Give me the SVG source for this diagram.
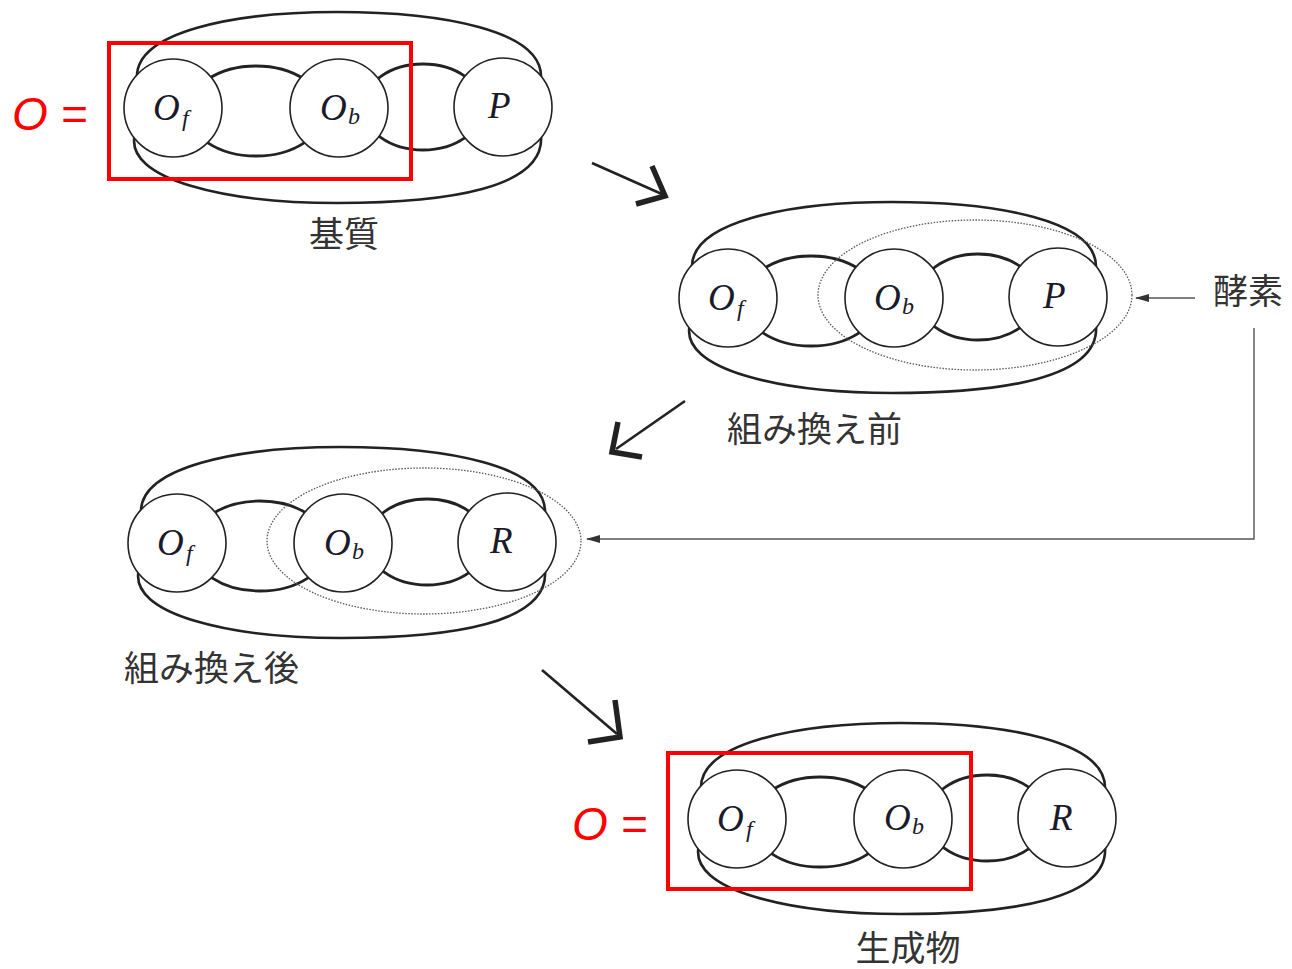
<svg xmlns="http://www.w3.org/2000/svg" xmlns:xlink="http://www.w3.org/1999/xlink" width="1292" height="969" viewBox="0 0 1292 969">
<style>
.outer{fill:none;stroke:#222;stroke-width:2.6}
.lens{fill:#fff;stroke:#222;stroke-width:2.8}
.circ{fill:#fff;stroke:#222;stroke-width:1.6}
.dot{fill:none;stroke:#555;stroke-width:1.3;stroke-dasharray:1.5 1.5}
.red{fill:none;stroke:#f00;stroke-width:4}
.m{font-family:"Liberation Serif",serif;font-style:italic;font-size:37px;fill:#1a1a2a}
.sub{font-family:"Liberation Serif",serif;font-style:italic;font-size:24px;fill:#1a1a2a}
.jp{font-family:"Noto Sans CJK JP","Noto Sans CJK SC",sans-serif;font-size:35px;fill:#333}
.eq{font-family:"Liberation Sans",sans-serif;font-style:italic;font-size:46px;fill:#f00}
.thin{fill:none;stroke:#555;stroke-width:1.4}
.shaft{fill:none;stroke:#222;stroke-width:2.6}
.head{fill:none;stroke:#222;stroke-width:5.5;stroke-linejoin:miter;stroke-linecap:butt}
</style>
<defs>
<marker id="ah" markerWidth="14" markerHeight="8" refX="13" refY="4" orient="auto" markerUnits="userSpaceOnUse"><path d="M0,0 L14,4 L0,8 z" fill="#333"/></marker>
<g id="mol">
<path class="outer" d="M -36,-30 C -38,-76 60,-96 164,-96 C 268,-96 370,-78 368,-30"/>
<path class="outer" d="M -38,26 C -50,72 55,95 164,95 C 275,95 372,80 368,28"/>
<ellipse class="lens" cx="83" cy="3" rx="68" ry="45"/>
<ellipse class="lens" cx="250" cy="-1" rx="60" ry="43"/>
<circle class="circ" cx="0" cy="0" r="49"/>
<circle class="circ" cx="166" cy="0" r="49"/>
<circle class="circ" cx="330" cy="-1" r="49"/>
</g>
</defs>
<rect width="1292" height="969" fill="#fff"/>

<g id="substrate">
<use xlink:href="#mol" transform="translate(173,108)"/>
<text class="m" x="153" y="120">O</text><text class="sub" x="182" y="126">f</text>
<text class="m" x="320" y="120">O</text><text class="sub" x="348" y="124">b</text>
<text class="m" x="488" y="118">P</text>
<rect class="red" x="109" y="43" width="302" height="136"/>
<text class="eq" x="12" y="130">O =</text>
<text class="jp" x="344" y="247" text-anchor="middle">基質</text>
</g>

<g id="before">
<use xlink:href="#mol" transform="translate(728,298)"/>
<text class="m" x="708" y="310">O</text><text class="sub" x="737" y="316">f</text>
<text class="m" x="874" y="310">O</text><text class="sub" x="902" y="314">b</text>
<text class="m" x="1043" y="308">P</text>
<ellipse class="dot" cx="975" cy="295" rx="157" ry="75"/>
<text class="jp" x="727" y="442">組み換え前</text>
</g>

<g id="enzyme">
<text class="jp" x="1213" y="304">酵素</text>
</g>

<g id="after">
<use xlink:href="#mol" transform="translate(177,543)"/>
<text class="m" x="157" y="555">O</text><text class="sub" x="186" y="561">f</text>
<text class="m" x="324" y="555">O</text><text class="sub" x="352" y="559">b</text>
<text class="m" x="490" y="553">R</text>
<ellipse class="dot" cx="424" cy="541" rx="157" ry="73"/>
<text class="jp" x="124" y="681">組み換え後</text>
</g>

<g id="product">
<use xlink:href="#mol" transform="translate(737,819)"/>
<text class="m" x="717" y="831">O</text><text class="sub" x="746" y="837">f</text>
<text class="m" x="884" y="830">O</text><text class="sub" x="912" y="834">b</text>
<text class="m" x="1050" y="830">R</text>
<rect class="red" x="668" y="753" width="303" height="136"/>
<text class="eq" x="572" y="840">O =</text>
<text class="jp" x="908" y="961" text-anchor="middle">生成物</text>
</g>

<g id="connectors">
<line class="shaft" x1="592" y1="163" x2="664" y2="195"/>
<polyline class="head" points="652,166 665,196 636,204"/>
<line class="shaft" x1="685" y1="401" x2="616" y2="449"/>
<polyline class="head" points="618,422 612,452 642,457"/>
<line class="shaft" x1="542" y1="670" x2="617" y2="734"/>
<polyline class="head" points="615,700 620,737 588,742"/>
<path class="thin" d="M1195,298 H1136" marker-end="url(#ah)"/>
<path class="thin" d="M1254,328 V539 H587" marker-end="url(#ah)"/>
</g>
</svg>
